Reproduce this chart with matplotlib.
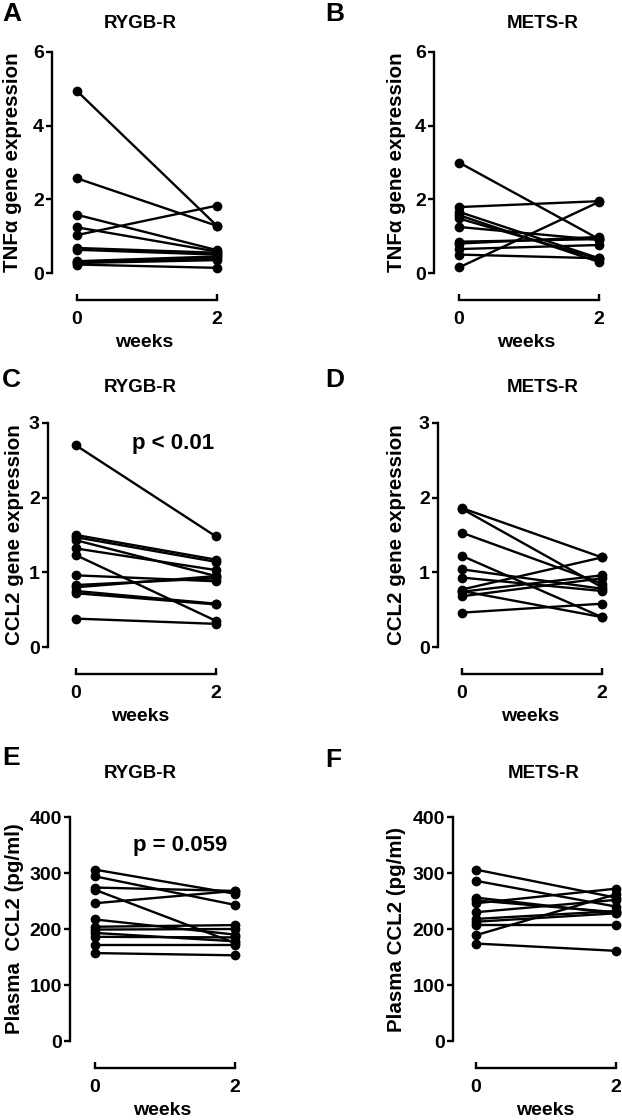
import matplotlib
matplotlib.use("Agg")
import matplotlib.pyplot as plt

plt.rcParams['font.family'] = ['Liberation Sans', 'DejaVu Sans']
plt.rcParams['font.weight'] = 'bold'

# paired values: week 0 -> week 2
tnf_rygb_w0 = [4.94, 2.57, 1.58, 1.24, 1.03, 0.68, 0.63, 0.32, 0.27, 0.30, 0.23]
tnf_rygb_w2 = [1.28, 1.28, 0.62, 0.58, 1.83, 0.55, 0.50, 0.45, 0.35, 0.40, 0.14]

tnf_mets_w0 = [3.00, 1.79, 1.66, 1.57, 1.48, 1.25, 0.85, 0.80, 0.65, 0.50, 0.15]
tnf_mets_w2 = [0.92, 1.95, 0.40, 0.30, 0.38, 0.90, 0.92, 0.98, 0.76, 0.40, 1.93]

ccl2_rygb_w0 = [2.70, 1.50, 1.47, 1.43, 1.32, 1.23, 0.96, 0.83, 0.80, 0.75, 0.72, 0.38]
ccl2_rygb_w2 = [1.48, 1.17, 1.14, 0.95, 1.03, 0.35, 0.88, 0.92, 0.95, 0.58, 0.57, 0.31]

ccl2_mets_w0 = [1.86, 1.85, 1.53, 1.22, 1.04, 0.93, 0.77, 0.74, 0.68, 0.46, 0.75]
ccl2_mets_w2 = [1.20, 0.80, 0.85, 0.40, 0.78, 0.75, 1.20, 0.96, 0.92, 0.58, 0.40]

plasma_rygb_w0 = [306, 294, 274, 270, 246, 217, 204, 199, 193, 186, 171, 157]
plasma_rygb_w2 = [263, 243, 268, 175, 268, 190, 207, 200, 178, 185, 171, 153]

plasma_mets_w0 = [306, 286, 256, 251, 246, 230, 218, 213, 207, 189, 174]
plasma_mets_w2 = [256, 240, 228, 230, 272, 252, 232, 228, 207, 262, 161]

weeks = [0, 2]

W, H = 622, 1120
fig = plt.figure(figsize=(W / 100, H / 100), dpi=100)


def add_panel(spine_x, x0_px, top_px, bottom_px, w0, w2, ymax, ystep, ylabel, label_x):
    width = 185
    ax = fig.add_axes([spine_x / W, 1 - bottom_px / H, width / W, (bottom_px - top_px) / H])
    left = -(x0_px - spine_x) / 70.0
    ax.set_xlim(left, left + width / 70.0)
    ax.set_ylim(0, ymax)
    for a, b in zip(w0, w2):
        ax.plot(weeks, [a, b], color='black', lw=1.7, marker='o', ms=6,
                clip_on=False, zorder=3)
    for s in ['top', 'right']:
        ax.spines[s].set_visible(False)
    ax.spines['left'].set_linewidth(1.7)
    ax.spines['bottom'].set_linewidth(1.7)
    ax.spines['bottom'].set_position(('outward', 19.5))
    ax.spines['bottom'].set_bounds(0, 2)
    ax.set_xticks(weeks)
    ax.set_yticks(list(range(0, ymax + 1, ystep)))
    ax.tick_params(axis='x', direction='in', length=4, width=1.7, labelsize=14, pad=8)
    ax.tick_params(axis='y', direction='out', length=4.5, width=1.7, labelsize=14, pad=1.5)
    for lab in ax.get_xticklabels() + ax.get_yticklabels():
        lab.set_fontweight('bold')
    ax.set_xlabel('weeks', fontsize=14, fontweight='bold', labelpad=4)
    ax.set_ylabel(ylabel, fontsize=14.8, fontweight='bold', va='center')
    ax.yaxis.set_label_coords((label_x - spine_x) / width, 0.5)
    return ax


axA = add_panel(52, 77, 52, 273, tnf_rygb_w0, tnf_rygb_w2, 6, 2, 'TNFα gene expression', 13)
axB = add_panel(434, 459, 52, 273, tnf_mets_w0, tnf_mets_w2, 6, 2, 'TNFα gene expression', 397)
axC = add_panel(48, 76, 423, 647, ccl2_rygb_w0, ccl2_rygb_w2, 3, 1, 'CCL2 gene expression', 15)
axD = add_panel(438, 462, 423, 647, ccl2_mets_w0, ccl2_mets_w2, 3, 1, 'CCL2 gene expression', 396)
axE = add_panel(70, 95, 817, 1041, plasma_rygb_w0, plasma_rygb_w2, 400, 100, 'Plasma  CCL2 (pg/ml)', 15)
axF = add_panel(453, 476, 817, 1041, plasma_mets_w0, plasma_mets_w2, 400, 100, 'Plasma CCL2 (pg/ml)', 396)


def ftext(x, y, s, size, ha='center'):
    fig.text(x / W, 1 - y / H, s, fontsize=size, fontweight='bold', ha=ha, va='center')


# panel letters
ftext(2, 14, 'A', 19, ha='left')
ftext(325, 14, 'B', 19, ha='left')
ftext(2, 380, 'C', 19, ha='left')
ftext(325, 380, 'D', 19, ha='left')
ftext(2, 758, 'E', 19, ha='left')
ftext(325, 760, 'F', 19, ha='left')

# titles
ftext(140, 23, 'RYGB-R', 13.5)
ftext(543, 23, 'METS-R', 13.5)
ftext(140, 388, 'RYGB-R', 13.5)
ftext(543, 388, 'METS-R', 13.5)
ftext(140, 773, 'RYGB-R', 13.5)
ftext(544, 773, 'METS-R', 13.5)

# p values
ftext(173, 444, 'p < 0.01', 16)
ftext(180, 845, 'p = 0.059', 16)

fig.savefig('out.png', dpi=100)
